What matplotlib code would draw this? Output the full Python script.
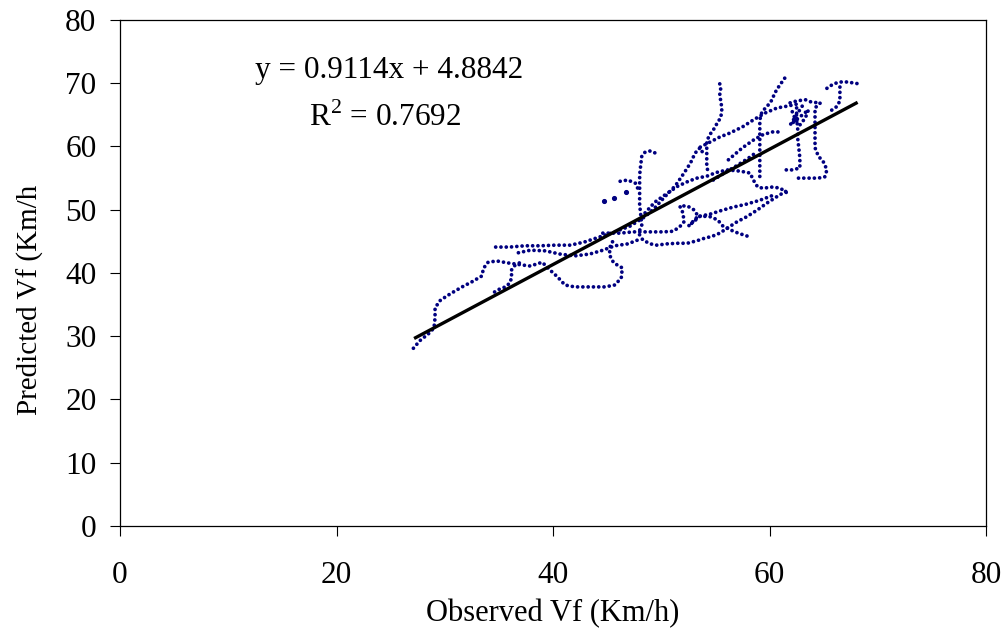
import matplotlib
matplotlib.use("Agg")
import matplotlib.pyplot as plt
import numpy as np

plt.rcParams["font.family"] = ["Liberation Serif", "DejaVu Serif"]
plt.rcParams["mathtext.fontset"] = "custom"
plt.rcParams["mathtext.rm"] = "Liberation Serif"

# observed / predicted free-flow speed traces (km/h)
t1_x = [27.1, 27.7, 28.5, 29.0, 29.1, 29.1, 29.6, 30.5, 31.6, 32.5, 33.4, 33.6, 34.0, 34.8, 35.8,
        37.0, 37.9, 39.0, 39.7, 40.4, 41.1, 42.0, 43.4, 44.8, 45.7, 46.3, 46.4, 45.6, 45.2, 45.3, 45.7]
t1_y = [28.1, 29.3, 30.4, 31.3, 32.9, 34.5, 35.7, 36.7, 37.8, 38.6, 39.5, 40.8, 41.7, 41.9, 41.6,
        41.3, 41.1, 41.7, 40.5, 39.4, 38.1, 37.8, 37.8, 37.8, 38.1, 39.2, 40.8, 41.6, 42.9, 44.4, 45.5]
t2_x = [34.7, 36.0, 37.4, 38.8, 40.2, 41.6, 42.9, 44.3, 45.7, 47.1, 48.5, 49.4, 50.3, 51.3, 52.1,
        52.7, 53.0, 53.3, 53.6, 53.8]
t2_y = [44.1, 44.1, 44.3, 44.3, 44.4, 44.4, 44.9, 45.7, 46.5, 47.4, 48.9, 50.3, 52.0, 53.8, 55.8,
        57.4, 58.5, 59.4, 59.8, 59.1]
t3_x = [36.8, 37.9, 39.3, 40.6, 42.0, 43.4, 44.6, 45.7, 46.9, 47.8]
t3_y = [43.2, 43.6, 43.5, 43.0, 42.7, 43.0, 43.6, 44.3, 44.6, 45.2]
t4_x = [34.6, 35.1, 35.6, 36.0, 36.2, 36.1, 36.4, 37.0]
t4_y = [37.0, 37.5, 37.8, 38.4, 39.4, 40.3, 41.1, 41.7]
t5_x = [49.4, 49.0, 48.5, 48.2, 48.1, 48.0, 48.0, 48.0, 48.0, 48.1, 48.2, 47.9, 48.3, 49.0, 49.6,
        50.5, 51.5, 52.4, 53.3, 54.0, 54.7, 55.4, 56.1, 57.0, 57.9, 58.9, 59.8, 60.8, 61.7]
t5_y = [59.0, 59.3, 59.1, 58.5, 57.1, 55.5, 53.9, 52.3, 50.8, 49.2, 47.6, 46.3, 45.2, 44.6, 44.4,
        44.6, 44.7, 44.7, 45.1, 45.5, 45.8, 46.3, 47.1, 48.1, 48.9, 50.0, 51.1, 52.2, 53.1]
t6_x = [44.6, 46.2, 47.4, 49.0, 50.2, 51.1, 51.7, 52.1, 52.0, 51.7, 52.4, 53.0, 53.4, 52.9, 52.5,
        53.6, 54.5, 55.2, 55.7, 56.4, 57.1, 58.0]
t6_y = [46.3, 46.3, 46.5, 46.5, 46.5, 46.6, 47.3, 48.1, 49.5, 50.6, 50.6, 50.0, 49.0, 48.1, 47.4,
        49.0, 48.9, 48.4, 47.4, 46.8, 46.3, 45.8]
t7_x = [46.2, 46.9, 47.6, 47.9]
t7_y = [54.5, 54.7, 54.2, 53.1]
t8_x = [48.5, 49.4, 50.3, 51.5, 52.5, 53.3, 54.2, 55.1, 56.1, 57.3, 58.2, 58.5, 58.9, 59.4, 60.3,
        61.0, 61.9]
t8_y = [49.5, 51.2, 52.3, 53.7, 54.5, 55.0, 55.3, 55.9, 56.3, 56.1, 55.8, 54.7, 53.6, 53.4, 53.6,
        53.4, 52.3]
t9_x = [55.4, 55.5, 55.4, 55.5, 55.6, 55.5, 55.2, 54.8, 54.4, 54.2, 54.2, 54.2, 54.2, 54.3]
t9_y = [69.9, 69.3, 68.2, 67.1, 66.0, 64.6, 63.8, 62.6, 61.7, 60.6, 59.4, 58.2, 57.1, 56.0]
t10_x = [53.6, 54.5, 55.4, 56.3, 57.5, 58.5, 59.6, 60.7, 61.7, 62.5]
t10_y = [59.9, 60.7, 61.5, 62.1, 63.1, 64.2, 65.3, 66.1, 66.4, 66.7]
t11_x = [61.4, 60.9, 60.5, 60.2, 59.8, 59.3, 59.1, 59.1, 59.1, 59.1, 59.1, 59.1, 59.1]
t11_y = [70.8, 69.6, 68.5, 67.3, 66.4, 65.5, 64.2, 62.6, 61.0, 59.4, 57.9, 56.3, 54.7]
t12_x = [56.2, 57.5, 58.5, 59.3, 60.2, 61.1]
t12_y = [57.9, 59.8, 61.0, 61.8, 62.3, 62.3]
t13_x = [61.9, 62.5, 63.3, 63.9, 64.7, 64.2, 64.2, 64.2, 64.2, 64.2, 64.2, 64.5, 65.0, 65.3, 65.1,
         64.5, 63.7, 63.0, 62.3]
t13_y = [66.9, 67.2, 67.4, 67.0, 66.9, 66.1, 64.8, 63.6, 62.3, 61.0, 59.8, 58.5, 57.5, 56.3, 55.2,
         55.0, 55.0, 55.0, 55.0]
t14_x = [62.5, 62.5, 62.6, 62.6, 62.7, 62.8, 62.8, 62.1, 61.3]
t14_y = [66.1, 64.5, 62.9, 61.3, 59.8, 58.2, 56.6, 56.3, 56.3]
t15_x = [65.3, 65.9, 66.5, 67.2, 67.9, 68.3]
t15_y = [69.2, 69.9, 70.2, 70.2, 70.0, 69.9]
t16_x = [66.5, 66.5, 66.5, 66.2, 65.7]
t16_y = [69.4, 68.3, 67.2, 66.3, 65.7]
t17_x = [54.8, 55.9, 57.0, 58.0, 58.8]
t17_y = [54.7, 55.9, 57.0, 58.1, 59.1]
t18_x = [53.6, 54.5, 55.4, 56.6, 57.9, 59.1, 60.2]
t18_y = [49.0, 49.3, 49.8, 50.4, 50.9, 51.5, 52.2]
t19_x = [62.1, 62.4, 62.8, 63.3, 63.6, 61.9, 63.1]
t19_y = [65.5, 64.2, 63.4, 64.5, 65.8, 63.4, 66.6]
extra_x = [44.7, 45.6, 46.7]
extra_y = [51.4, 51.9, 52.8]

traces = [
    (t1_x, t1_y), (t2_x, t2_y), (t3_x, t3_y), (t4_x, t4_y), (t5_x, t5_y), (t6_x, t6_y),
    (t7_x, t7_y), (t8_x, t8_y), (t9_x, t9_y), (t10_x, t10_y), (t11_x, t11_y), (t12_x, t12_y),
    (t13_x, t13_y), (t14_x, t14_y), (t15_x, t15_y), (t16_x, t16_y), (t17_x, t17_y),
    (t18_x, t18_y), (t19_x, t19_y),
]

slope = 0.9114
intercept = 4.8842
r2 = 0.7692
trend_range = [27.3, 68.0]

fig = plt.figure(figsize=(10.07, 6.35), dpi=100)
ax = fig.add_axes([0.1192, 0.1717, 0.8600, 0.7968])

navy = "#000080"
for tx, ty in traces:
    ax.plot(tx, ty, color=navy, linewidth=2.7, linestyle=(0, (0.01, 1.4)),
            dash_capstyle="round", solid_capstyle="round")
ax.plot(extra_x, extra_y, "o", color=navy, markersize=2.7)

# linear trend line
lx = np.array(trend_range)
ax.plot(lx, slope * lx + intercept, color="black", linewidth=2.4)

ax.text(24.9, 72.0, f"y = {slope}x + {intercept}", fontsize=22.5, ha="center", va="center")
ax.text(24.5, 64.6, r"R$^{2}$ = " + f"{r2}", fontsize=22.5, ha="center", va="center")

ax.set_xlim(0, 80)
ax.set_ylim(0, 80)
ax.set_xticks(range(0, 81, 20))
ax.set_yticks(range(0, 81, 10))
ax.tick_params(axis="both", direction="out", length=7, width=0.8, labelsize=22.5)
ax.tick_params(axis="x", pad=18)
ax.tick_params(axis="y", pad=10)
for s in ax.spines.values():
    s.set_linewidth(0.9)

ax.set_xlabel("Observed Vf (Km/h)", fontsize=22)
ax.xaxis.set_label_coords(0.5, -0.145)
ax.set_ylabel("Predicted Vf (Km/h", fontsize=21)
ax.yaxis.set_label_coords(-0.088, 0.447)

fig.savefig("out.png", dpi=100)
